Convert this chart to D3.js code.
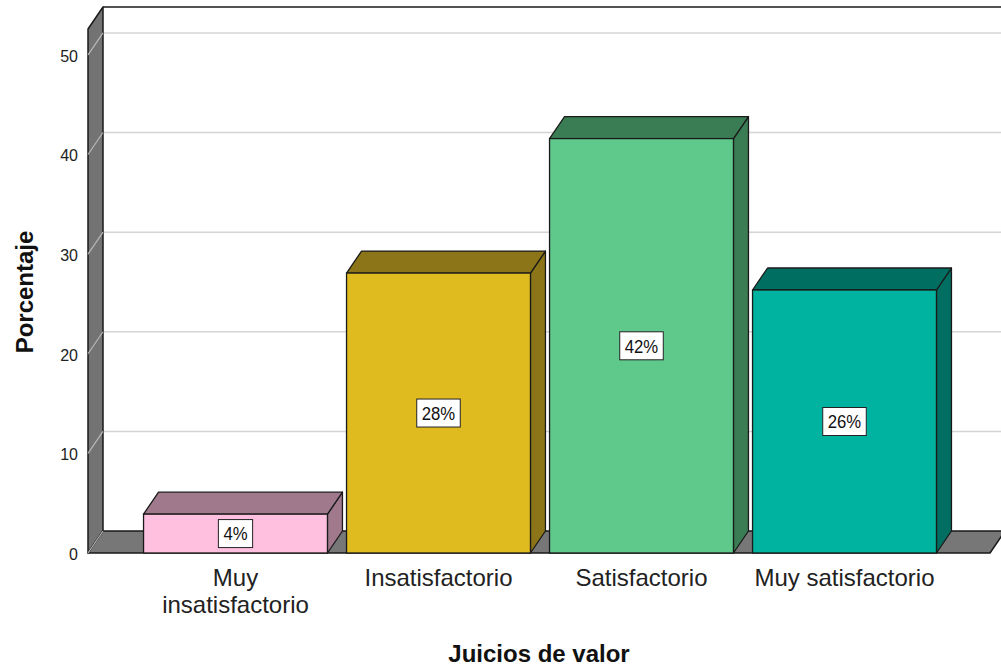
<!DOCTYPE html>
<html>
<head>
<meta charset="utf-8">
<script src="https://cdn.jsdelivr.net/npm/d3@7"></script>
<style>
  html, body { margin: 0; padding: 0; background: #fff; }
  svg { display: block; }
</style>
</head>
<body>
<svg id="chart" width="1001" height="669"></svg>
<script>
// ---- data ----
const categories = ["Muy insatisfactorio", "Insatisfactorio", "Satisfactorio", "Muy satisfactorio"];
const categoryLines = [["Muy", "insatisfactorio"], ["Insatisfactorio"], ["Satisfactorio"], ["Muy satisfactorio"]];
const values = [3.9, 28.1, 41.6, 26.4];
const valueLabels = ["4%", "28%", "42%", "26%"];
const yTicks = [0, 10, 20, 30, 40, 50];
const frontColors = ["#ffc0e0", "#e0bb20", "#5ec98b", "#00b3a0"];
const sideColors = ["#a07a8c", "#8b7518", "#3a7d55", "#006e60"];

// ---- layout ----
const svg = d3.select("#chart");
const W = 1001, H = 669;
const dx = 15, dy = -22;          // 3D depth offset
const front = { left: 88, right: 990, top: 29, bottom: 553 };

const y = d3.scaleLinear().domain([0, 52.6]).range([front.bottom, front.top]);
const x = d3.scaleBand().domain(categories).range([134, 946]).paddingInner(0.094).paddingOuter(0.047);

const stroke = "#1a1a1a";
const sans = "'Liberation Sans', Arial, sans-serif";
const narrow = 0.88;     // horizontal compression for value labels

// back plane border
svg.append("line").attr("x1", front.left + dx).attr("x2", W + 5)
  .attr("y1", front.top + dy).attr("y2", front.top + dy)
  .attr("stroke", stroke).attr("stroke-width", 1.5);

// gridlines on back plane
svg.append("g").selectAll("line").data(yTicks.filter(d => d > 0)).join("line")
  .attr("x1", front.left + dx).attr("x2", W + 5)
  .attr("y1", d => y(d) + dy).attr("y2", d => y(d) + dy)
  .attr("stroke", "#d4d4d4").attr("stroke-width", 1.5);

// left wall
svg.append("polygon")
  .attr("points", [[front.left, front.top], [front.left + dx, front.top + dy], [front.left + dx, front.bottom + dy], [front.left, front.bottom]].join(" "))
  .attr("fill", "#737373").attr("stroke", stroke).attr("stroke-width", 1.5).attr("stroke-linejoin", "round");

// gridlines across the wall
svg.append("g").selectAll("line").data(yTicks.filter(d => d > 0)).join("line")
  .attr("x1", front.left).attr("x2", front.left + dx)
  .attr("y1", d => y(d)).attr("y2", d => y(d) + dy)
  .attr("stroke", "#b8b8b8").attr("stroke-width", 1.2);

// floor
svg.append("polygon")
  .attr("points", [[front.left, front.bottom], [front.right, front.bottom], [front.right + dx, front.bottom + dy], [front.left + dx, front.bottom + dy]].join(" "))
  .attr("fill", "#777777").attr("stroke", stroke).attr("stroke-width", 1.5).attr("stroke-linejoin", "round");
svg.append("line")
  .attr("x1", front.left).attr("y1", y(0)).attr("x2", front.left + dx).attr("y2", y(0) + dy)
  .attr("stroke", "#b8b8b8").attr("stroke-width", 1.2);

// y axis labels
const yAxis = svg.append("g")
  .attr("transform", `translate(${front.left},0)`)
  .call(d3.axisLeft(y).tickValues(yTicks).tickSize(0).tickPadding(10).tickFormat(d3.format("d")));
yAxis.select(".domain").remove();
yAxis.selectAll("text")
  .attr("font-family", sans)
  .attr("font-size", 16).attr("fill", "#222").attr("dy", "0.4em");

// bars
const data = categories.map((c, i) => ({ c, v: values[i], lab: valueLabels[i], f: frontColors[i], s: sideColors[i] }));
const bars = svg.append("g").selectAll("g").data(data).join("g");

bars.append("polygon") // side face
  .attr("points", d => {
    const x1 = x(d.c) + x.bandwidth(), yt = y(d.v), yb = y(0);
    return [[x1, yt], [x1 + dx, yt + dy], [x1 + dx, yb + dy], [x1, yb]].join(" ");
  })
  .attr("fill", d => d.s).attr("stroke", stroke).attr("stroke-width", 1.3).attr("stroke-linejoin", "round");

bars.append("polygon") // top face
  .attr("points", d => {
    const x0 = x(d.c), x1 = x0 + x.bandwidth(), yt = y(d.v);
    return [[x0, yt], [x0 + dx, yt + dy], [x1 + dx, yt + dy], [x1, yt]].join(" ");
  })
  .attr("fill", d => d.s).attr("stroke", stroke).attr("stroke-width", 1.3).attr("stroke-linejoin", "round");

bars.append("rect") // front face
  .attr("x", d => x(d.c)).attr("y", d => y(d.v))
  .attr("width", x.bandwidth()).attr("height", d => y(0) - y(d.v))
  .attr("fill", d => d.f).attr("stroke", stroke).attr("stroke-width", 1.3);

// value labels
bars.each(function (d) {
  const g = d3.select(this);
  const cx = x(d.c) + x.bandwidth() / 2;
  const cy = (y(d.v) + y(0)) / 2;
  const lg = g.append("g").attr("transform", `translate(${cx},${cy})`);
  const box = lg.append("rect");
  const t = lg.append("text")
    .attr("transform", `scale(${narrow},1)`)
    .attr("dy", "0.36em")
    .attr("text-anchor", "middle")
    .attr("font-family", sans).attr("font-size", 19).attr("fill", "#111")
    .text(d.lab);
  const w = t.node().getBBox().width * narrow;
  box.attr("x", -w / 2 - 5).attr("y", -14)
    .attr("width", w + 10).attr("height", 28)
    .attr("fill", "#fff").attr("stroke", "#222").attr("stroke-width", 1);
});

// category labels
svg.append("g").selectAll("g").data(categories).join("g")
  .attr("transform", d => `translate(${x(d) + x.bandwidth() / 2},586)`)
  .each(function (d, i) {
    d3.select(this).selectAll("text").data(categoryLines[i]).join("text")
      .attr("y", (l, j) => j * 27)
      .attr("text-anchor", "middle")
      .attr("font-family", sans).attr("font-size", 24).attr("fill", "#222")
      .text(l => l);
  });

// axis titles
svg.append("text")
  .attr("transform", `translate(33,292) rotate(-90)`)
  .attr("text-anchor", "middle")
  .attr("font-family", sans)
  .attr("font-weight", "bold").attr("font-size", 24).attr("fill", "#111")
  .text("Porcentaje");

svg.append("text")
  .attr("x", 539).attr("y", 662)
  .attr("text-anchor", "middle")
  .attr("font-family", sans)
  .attr("font-weight", "bold").attr("font-size", 24).attr("fill", "#111")
  .text("Juicios de valor");
</script>
</body>
</html>
